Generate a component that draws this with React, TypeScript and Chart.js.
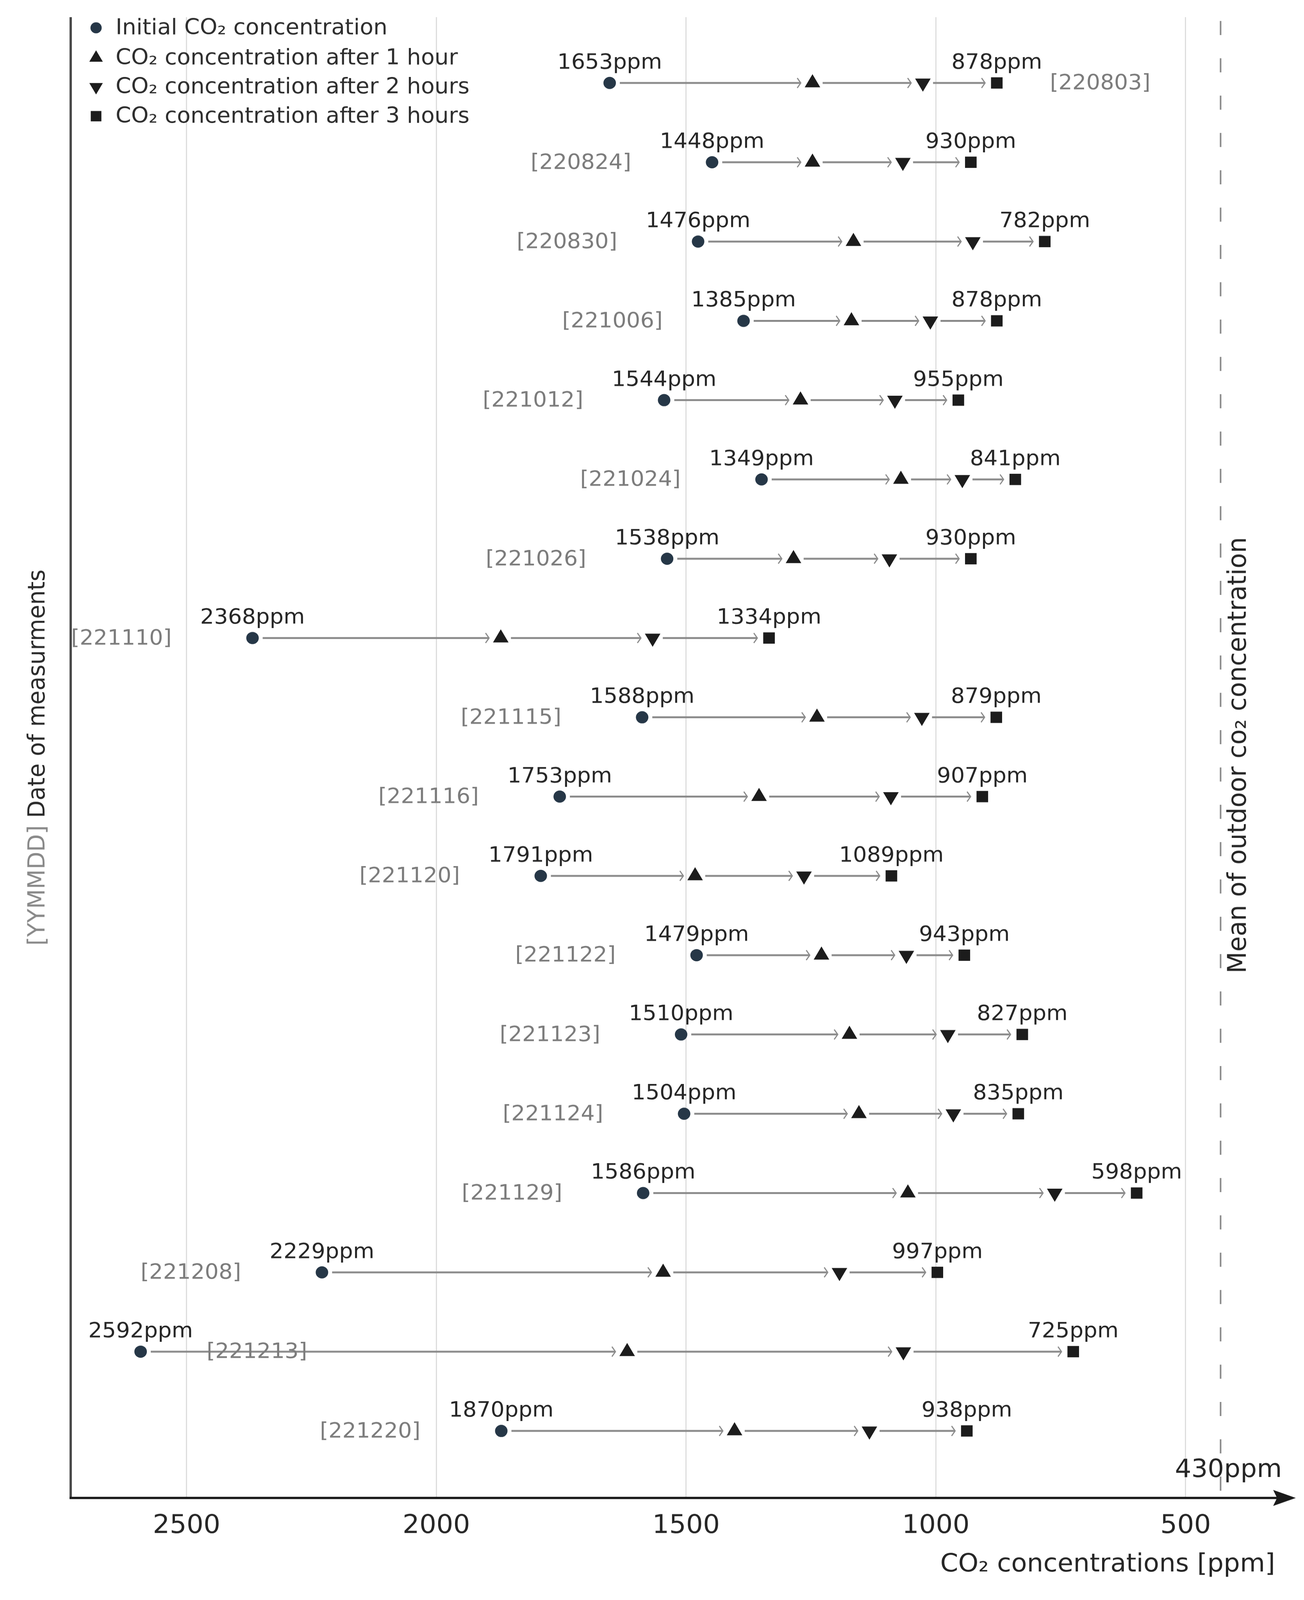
import React, { useEffect, useRef } from 'react';
import { Chart, registerables } from 'chart.js';

Chart.register(...registerables);

// ---- data ----
const dates = ['220803', '220824', '220830', '221006', '221012', '221024', '221026', '221110', '221115', '221116', '221120', '221122', '221123', '221124', '221129', '221208', '221213', '221220'];
const initialCO2 = [1653, 1448, 1476, 1385, 1544, 1349, 1538, 2368, 1588, 1753, 1791, 1479, 1510, 1504, 1586, 2229, 2592, 1870];
const after1h = [1247, 1247, 1165, 1169, 1271, 1070, 1285, 1871, 1238, 1354, 1482, 1229, 1173, 1154, 1056, 1546, 1618, 1403];
const after2h = [1026, 1066, 926, 1011, 1082, 947, 1093, 1567, 1028, 1090, 1264, 1059, 976, 965, 762, 1193, 1065, 1133];
const after3h = [878, 930, 782, 878, 955, 841, 930, 1334, 879, 907, 1089, 943, 827, 835, 598, 997, 725, 938];
const xTicks = [2500, 2000, 1500, 1000, 500];
const outdoorMean = 430;
const legendLabels = [
  'Initial CO\u2082 concentration',
  'CO\u2082 concentration after 1 hour',
  'CO\u2082 concentration after 2 hours',
  'CO\u2082 concentration after 3 hours',
];

const FONT = "'DejaVu Sans', 'Noto Sans', sans-serif";
const W = 3339;
const H = 4201;
const CIRCLE_COLOR = '#263747';
const MARK_COLOR = '#1c1c1c';

function drawMarker(ctx: CanvasRenderingContext2D, kind: number, x: number, y: number, s: number) {
  ctx.beginPath();
  if (kind === 0) {
    ctx.arc(x, y, s * 0.72, 0, Math.PI * 2);
    ctx.fillStyle = CIRCLE_COLOR;
  } else if (kind === 1) {
    ctx.moveTo(x, y - s);
    ctx.lineTo(x + s * 0.866, y + s / 2);
    ctx.lineTo(x - s * 0.866, y + s / 2);
    ctx.closePath();
    ctx.fillStyle = MARK_COLOR;
  } else if (kind === 2) {
    ctx.moveTo(x, y + s);
    ctx.lineTo(x + s * 0.866, y - s / 2);
    ctx.lineTo(x - s * 0.866, y - s / 2);
    ctx.closePath();
    ctx.fillStyle = MARK_COLOR;
  } else {
    const h = s * 0.68;
    ctx.rect(x - h, y - h, 2 * h, 2 * h);
    ctx.fillStyle = MARK_COLOR;
  }
  ctx.fill();
}

const overlayPlugin = {
  id: 'overlay',
  beforeDatasetsDraw(chart: any) {
    const ctx: CanvasRenderingContext2D = chart.ctx;
    const xs = chart.scales.x;
    const area = chart.chartArea;
    // dashed mean line
    const mx = xs.getPixelForValue(outdoorMean);
    ctx.save();
    ctx.strokeStyle = '#8a8a8a';
    ctx.lineWidth = 4;
    ctx.setLineDash([37, 61]);
    ctx.beginPath();
    ctx.moveTo(mx, area.top + 10);
    ctx.lineTo(mx, area.bottom);
    ctx.stroke();
    ctx.restore();

    // arrows between consecutive measurements
    const metas = [0, 1, 2, 3].map((d) => chart.getDatasetMeta(d));
    ctx.save();
    ctx.strokeStyle = '#8a8a8a';
    ctx.lineCap = 'butt';
    for (let i = 0; i < dates.length; i++) {
      for (let k = 0; k < 3; k++) {
        const a = metas[k].data[i];
        const b = metas[k + 1].data[i];
        const y = a.y;
        const x0 = a.x + 26;
        const x1 = b.x - 30;
        ctx.lineWidth = 5;
        ctx.beginPath();
        ctx.moveTo(x0, y);
        ctx.lineTo(x1 - 2, y);
        ctx.stroke();
        ctx.lineWidth = 3;
        ctx.beginPath();
        ctx.moveTo(x1 - 9, y - 13);
        ctx.lineTo(x1, y);
        ctx.lineTo(x1 - 9, y + 13);
        ctx.stroke();
      }
    }
    ctx.restore();
  },
  afterDraw(chart: any) {
    const ctx: CanvasRenderingContext2D = chart.ctx;
    const xs = chart.scales.x;
    const area = chart.chartArea;
    const metas = [0, 1, 2, 3].map((d) => chart.getDatasetMeta(d));
    ctx.save();

    // y axis line
    ctx.strokeStyle = '#4a4a4a';
    ctx.lineWidth = 6;
    ctx.beginPath();
    ctx.moveTo(area.left, area.top);
    ctx.lineTo(area.left, area.bottom);
    ctx.stroke();
    // x axis line with arrow
    ctx.strokeStyle = '#1a1a1a';
    ctx.beginPath();
    ctx.moveTo(area.left - 3, area.bottom);
    ctx.lineTo(area.right - 40, area.bottom);
    ctx.stroke();
    ctx.fillStyle = '#1a1a1a';
    ctx.beginPath();
    ctx.moveTo(area.right + 2, area.bottom);
    ctx.lineTo(area.right - 56, area.bottom - 21);
    ctx.lineTo(area.right - 46, area.bottom);
    ctx.lineTo(area.right - 56, area.bottom + 21);
    ctx.closePath();
    ctx.fill();

    // value labels and date labels
    for (let i = 0; i < dates.length; i++) {
      const p0 = metas[0].data[i];
      const p3 = metas[3].data[i];
      ctx.font = `56px ${FONT}`;
      ctx.fillStyle = '#262626';
      ctx.textAlign = 'center';
      ctx.textBaseline = 'alphabetic';
      ctx.fillText(`${initialCO2[i]}ppm`, p0.x, p0.y - 38);
      ctx.fillText(`${after3h[i]}ppm`, p3.x, p3.y - 38);

      ctx.fillStyle = '#7c7c7c';
      ctx.textBaseline = 'middle';
      const label = `[${dates[i]}]`;
      if (dates[i] === '220803') {
        ctx.textAlign = 'left';
        ctx.fillText(label, p3.x + 136, p3.y + 2);
      } else if (dates[i] === '221213') {
        ctx.textAlign = 'left';
        ctx.fillText(label, p0.x + 169, p0.y + 2);
      } else {
        ctx.textAlign = 'right';
        ctx.fillText(label, p0.x - 207, p0.y + 2);
      }
    }

    // legend
    const legY = [73, 152, 228, 305];
    ctx.font = `57px ${FONT}`;
    ctx.textAlign = 'left';
    ctx.textBaseline = 'middle';
    for (let k = 0; k < 4; k++) {
      drawMarker(ctx, k, 246, legY[k], 20);
      ctx.fillStyle = '#2e2e2e';
      ctx.fillText(legendLabels[k], 296, legY[k] + 2);
    }

    // y axis title
    const cy = (area.top + area.bottom) / 2;
    ctx.save();
    ctx.translate(98, cy);
    ctx.rotate(-Math.PI / 2);
    ctx.font = `60px ${FONT}`;
    ctx.textBaseline = 'middle';
    ctx.textAlign = 'left';
    const t1 = '[YYMMDD]';
    const t2 = ' Date of measurments';
    const w1 = ctx.measureText(t1).width;
    const w2 = ctx.measureText(t2).width;
    const sx = -(w1 + w2) / 2;
    ctx.fillStyle = '#8a8a8a';
    ctx.fillText(t1, sx, 0);
    ctx.fillStyle = '#2a2a2a';
    ctx.fillText(t2, sx + w1, 0);
    ctx.restore();

    // right title
    ctx.save();
    ctx.translate(3173, cy - 6);
    ctx.rotate(-Math.PI / 2);
    ctx.font = `66px ${FONT}`;
    ctx.textAlign = 'center';
    ctx.textBaseline = 'middle';
    ctx.fillStyle = '#262626';
    ctx.fillText('Mean of outdoor co\u2082 concentration', 0, 0);
    ctx.restore();

    // 430ppm label
    const mx = xs.getPixelForValue(outdoorMean);
    ctx.font = `66px ${FONT}`;
    ctx.textAlign = 'center';
    ctx.textBaseline = 'middle';
    ctx.fillStyle = '#262626';
    ctx.fillText(`${outdoorMean}ppm`, mx + 20, area.bottom - 72);

    // x axis title
    ctx.textAlign = 'right';
    ctx.fillText('CO\u2082 concentrations [ppm]', 3265, area.bottom + 176);

    ctx.restore();
  },
};

export default function App() {
  const ref = useRef<HTMLCanvasElement | null>(null);

  useEffect(() => {
    if (!ref.current) return;
    const mk = (vals: number[]) => vals.map((v, i) => ({ x: v, y: i }));
    const chart = new Chart(ref.current, {
      type: 'scatter',
      data: {
        datasets: [
          { label: legendLabels[0], data: mk(initialCO2), pointStyle: 'circle', pointRadius: 16, backgroundColor: CIRCLE_COLOR, borderWidth: 0 },
          { label: legendLabels[1], data: mk(after1h), pointStyle: 'triangle', pointRadius: 23, backgroundColor: MARK_COLOR, borderWidth: 0 },
          { label: legendLabels[2], data: mk(after2h), pointStyle: 'triangle', rotation: 180, pointRadius: 23, backgroundColor: MARK_COLOR, borderWidth: 0 },
          { label: legendLabels[3], data: mk(after3h), pointStyle: 'rect', pointRadius: 21, backgroundColor: MARK_COLOR, borderWidth: 0 },
        ] as any,
      },
      options: {
        animation: false,
        responsive: false,
        devicePixelRatio: 1,
        events: [],
        layout: { padding: { top: 45, right: 23, left: 0, bottom: 0 } },
        plugins: { legend: { display: false }, tooltip: { enabled: false } },
        scales: {
          x: {
            type: 'linear',
            reverse: true,
            min: 281,
            max: 2732,
            position: 'bottom',
            afterBuildTicks: (scale: any) => {
              scale.ticks = xTicks.map((v) => ({ value: v }));
            },
            afterFit: (scale: any) => {
              scale.height = 268;
            },
            grid: { color: '#dddddd', lineWidth: 3, drawTicks: false },
            border: { display: false },
            ticks: {
              font: { family: FONT, size: 68 },
              color: '#262626',
              padding: 34,
              maxRotation: 0,
              autoSkip: false,
              callback: (v: any) => String(v),
            },
          },
          y: {
            type: 'linear',
            reverse: true,
            min: -0.83,
            max: 17.845,
            afterFit: (scale: any) => {
              scale.width = 181;
            },
            grid: { display: false, drawTicks: false },
            border: { display: false },
            ticks: { display: false },
          },
        },
      } as any,
      plugins: [overlayPlugin],
    });
    return () => chart.destroy();
  }, []);

  return (
    <div style={{ position: 'fixed', left: 0, top: 0, width: '100vw', height: '100vh', background: '#ffffff', overflow: 'hidden' }}>
      <canvas ref={ref} width={W} height={H} style={{ width: '100%', height: '100%', display: 'block' }} />
    </div>
  );
}
